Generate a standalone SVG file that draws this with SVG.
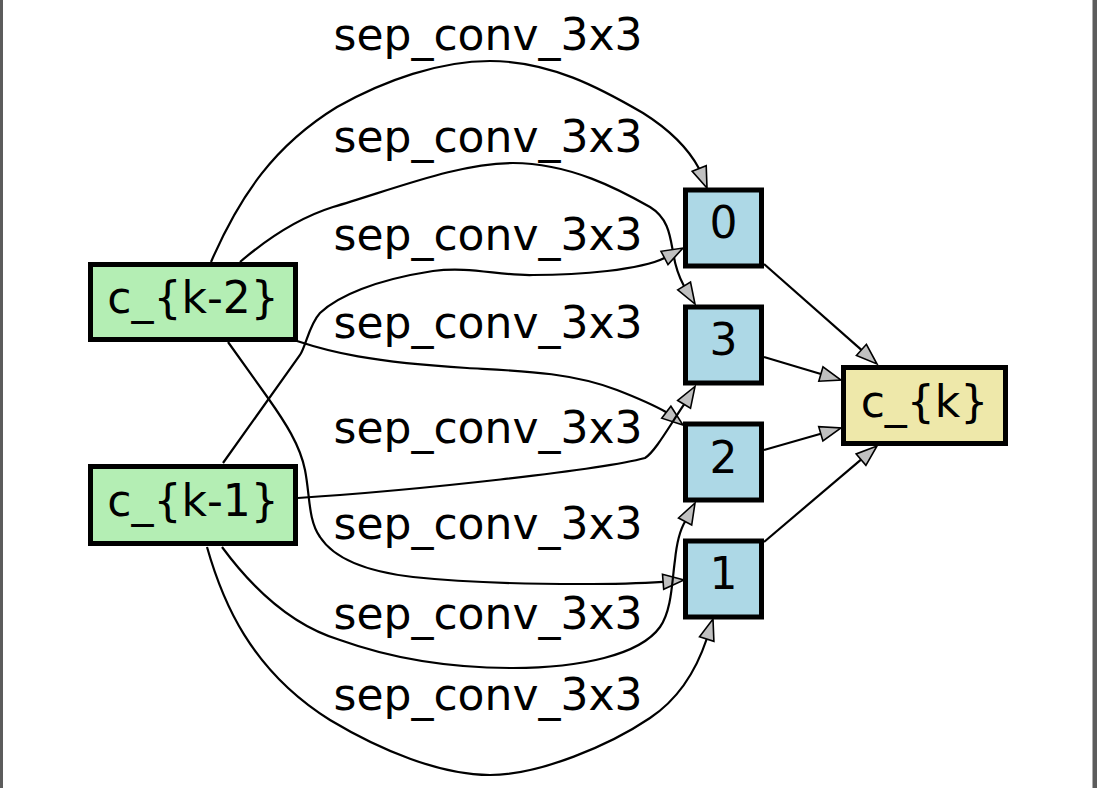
<svg xmlns="http://www.w3.org/2000/svg" width="1097" height="788" viewBox="0 0 1097 788">
<style>
.edge{fill:none;stroke:#000;stroke-width:2.2}
.ah{fill:#c0c0c0;stroke:#000;stroke-width:1.6;stroke-linejoin:miter}
.nd{stroke:#000;stroke-width:5}
.in{fill:#b4eeb4}
.op{fill:#add8e6}
.out{fill:#eee8aa}
text{font-family:"DejaVu Sans","Liberation Sans",sans-serif;font-size:44px;fill:#000;text-anchor:middle}
.bar{fill:#5c5c5c}
</style>
<rect width="1097" height="788" fill="#fff"/>
<rect class="bar" x="0" y="0" width="3" height="788"/>
<rect class="bar" x="1092.5" y="0" width="4.5" height="788"/>
<g id="connectors">
  <!-- c_{k-2} -> 0 -->
  <path class="edge" d="M211,262 C240,195 275,145 337,107 C385,80 440,61 490,61 C550,61 600,88 643,113 C670,130 688,148 699,168.5"/>
  <polygon class="ah" points="692.2,171.3 706.2,165.7 707,188"/>
  <text x="488" y="50">sep_conv_3x3</text>
  <!-- c_{k-2} -> 3 -->
  <path class="edge" d="M240,262 C268,238 298,218 333,207 C400,187 460,163 513,163 C570,163 620,190 650,207 C668,218 670,235 673,252 C675,265 679,277 684,286"/>
  <polygon class="ah" points="677.7,289.9 690.5,282.1 695,304"/>
  <text x="488" y="151.7">sep_conv_3x3</text>
  <!-- c_{k-1} -> 0 -->
  <path class="edge" d="M223,463 L300,355 C306,346 309,325 320,313 C338,296 375,280 433,271 C470,266 500,276 533,275 C580,275 640,270 664.5,258"/>
  <polygon class="ah" points="661,251.3 668,264.5 683,248"/>
  <text x="488" y="250">sep_conv_3x3</text>
  <!-- c_{k-2} -> 2 -->
  <path class="edge" d="M297,341 C330,352 370,362 467,368 C520,371 570,372 617,390 C635,397 650,403 666.3,412.2"/>
  <polygon class="ah" points="661.7,418.2 670.9,406.2 683,425"/>
  <text x="488" y="338.3">sep_conv_3x3</text>
  <!-- c_{k-1} -> 3 -->
  <path class="edge" d="M298,498 C420,490 600,470 645,458 C655,452 670,425 684.1,404.4"/>
  <polygon class="ah" points="677.7,400.5 690.5,408.3 695,386.5"/>
  <text x="488" y="443.3">sep_conv_3x3</text>
  <!-- c_{k-2} -> 1 -->
  <path class="edge" d="M228,342 L268,398 C285,422 300,445 305,470 C310,495 308,520 320,537 C335,560 370,572 413,577 C460,582 520,584 580,584 C620,584 645,583 663.1,581.8"/>
  <polygon class="ah" points="662.5,574.3 663.7,589.3 684,580"/>
  <text x="488" y="539">sep_conv_3x3</text>
  <!-- c_{k-1} -> 2 -->
  <path class="edge" d="M222,547 C250,585 290,625 340,640 C390,658 450,668 513,668 C580,668 640,655 660,627 C672,610 672,580 675,560 C677,540 680,530 685.1,521.5"/>
  <polygon class="ah" points="678.5,518 691.7,525 695,503"/>
  <text x="488" y="629.3">sep_conv_3x3</text>
  <!-- c_{k-1} -> 1 -->
  <path class="edge" d="M207,547 C222,600 250,670 330,720 C380,750 440,775 490,775 C540,775 610,745 650,718 C680,698 697,668 706.7,639"/>
  <polygon class="ah" points="699.5,636.8 713.9,641.3 713,619"/>
  <text x="488" y="710">sep_conv_3x3</text>
  <!-- ops -> c_{k} -->
  <path class="edge" d="M764,264 L861.4,349.9"/>
  <polygon class="ah" points="856.4,355.5 866.4,344.3 877,364"/>
  <path class="edge" d="M764,357 L820.9,374"/>
  <polygon class="ah" points="818.8,381.2 823,366.8 841,380"/>
  <path class="edge" d="M764,450 L820.8,433.8"/>
  <polygon class="ah" points="818.7,426.6 822.9,441 841,428"/>
  <path class="edge" d="M764,542 L861,459.6"/>
  <polygon class="ah" points="856.2,453.9 865.9,465.3 877,446"/>
</g>
<g id="node-ck2">
  <rect class="nd in" x="90.5" y="264.5" width="205" height="75"/>
  <text x="193" y="313">c_{k-2}</text>
</g>
<g id="node-ck1">
  <rect class="nd in" x="90.5" y="466.5" width="205" height="77"/>
  <text x="193" y="516">c_{k-1}</text>
</g>
<g id="node-0">
  <rect class="nd op" x="685.5" y="190" width="76" height="76"/>
  <text x="723.5" y="238">0</text>
</g>
<g id="node-3">
  <rect class="nd op" x="685.5" y="307" width="76" height="76"/>
  <text x="723.5" y="355">3</text>
</g>
<g id="node-2">
  <rect class="nd op" x="685.5" y="424" width="76" height="76"/>
  <text x="723.5" y="472.5">2</text>
</g>
<g id="node-1">
  <rect class="nd op" x="685.5" y="541" width="76" height="76"/>
  <text x="723.5" y="589">1</text>
</g>
<g id="node-ck">
  <rect class="nd out" x="843.5" y="367.5" width="162" height="76"/>
  <text x="924.5" y="416.5">c_{k}</text>
</g>
</svg>
